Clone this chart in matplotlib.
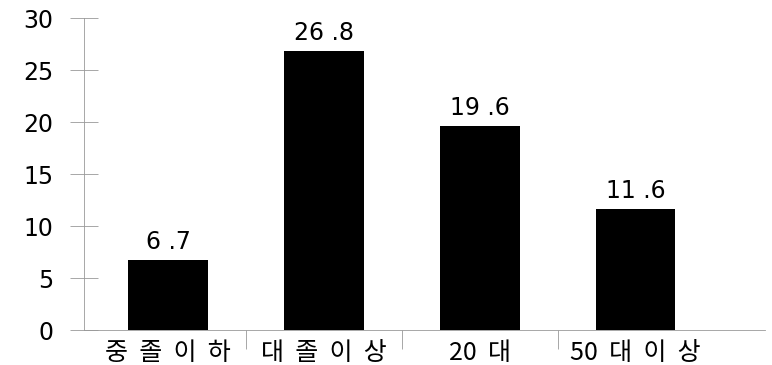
import matplotlib.pyplot as plt

plt.rcParams['font.family'] = ['Noto Sans CJK KR', 'DejaVu Sans']

categories = ['중졸이하', '대졸이상', '20대', '50대이상']
values = [6.7, 26.8, 19.6, 11.6]
value_labels = ['6 .7', '26 .8', '19 .6', '11 .6']
yticks = [0, 5, 10, 15, 20, 25, 30]

fig = plt.figure(figsize=(7.72, 3.65), dpi=100)
ax = fig.add_axes([84 / 772, 35 / 365, 681 / 772, 312 / 365])

x = list(range(len(categories)))
ax.bar(x, values, width=0.51, color='black', zorder=3)

for xi, v, lab in zip(x, values, value_labels):
    ax.text(xi, v + 0.6, lab, ha='center', va='bottom', fontsize=17,
            family='DejaVu Sans')

ax.set_xlim(-0.54, 3.83)
ax.set_ylim(0, 30)
ax.set_yticks(yticks)
ax.set_yticklabels([str(t) for t in yticks], fontsize=17, family='DejaVu Sans')
ax.tick_params(axis='y', direction='inout', length=20, width=0.6,
               color='#999999', pad=12)


# spread the characters like the original print
def spread(label):
    if label[0].isdigit():
        return label[:2] + '  ' + '  '.join(label[2:])
    return '  '.join(label)


ax.set_xticks(x)
ax.set_xticklabels([spread(c) for c in categories], fontsize=18)
ax.tick_params(axis='x', length=0, pad=7)
ax.set_xticks([0.5, 1.5, 2.5], minor=True)
ax.tick_params(axis='x', which='minor', direction='out', length=14,
               width=0.6, color='#999999')

for side in ['top', 'right']:
    ax.spines[side].set_visible(False)
for side in ['left', 'bottom']:
    ax.spines[side].set_color('#999999')
    ax.spines[side].set_linewidth(0.6)

plt.savefig('out.png')
